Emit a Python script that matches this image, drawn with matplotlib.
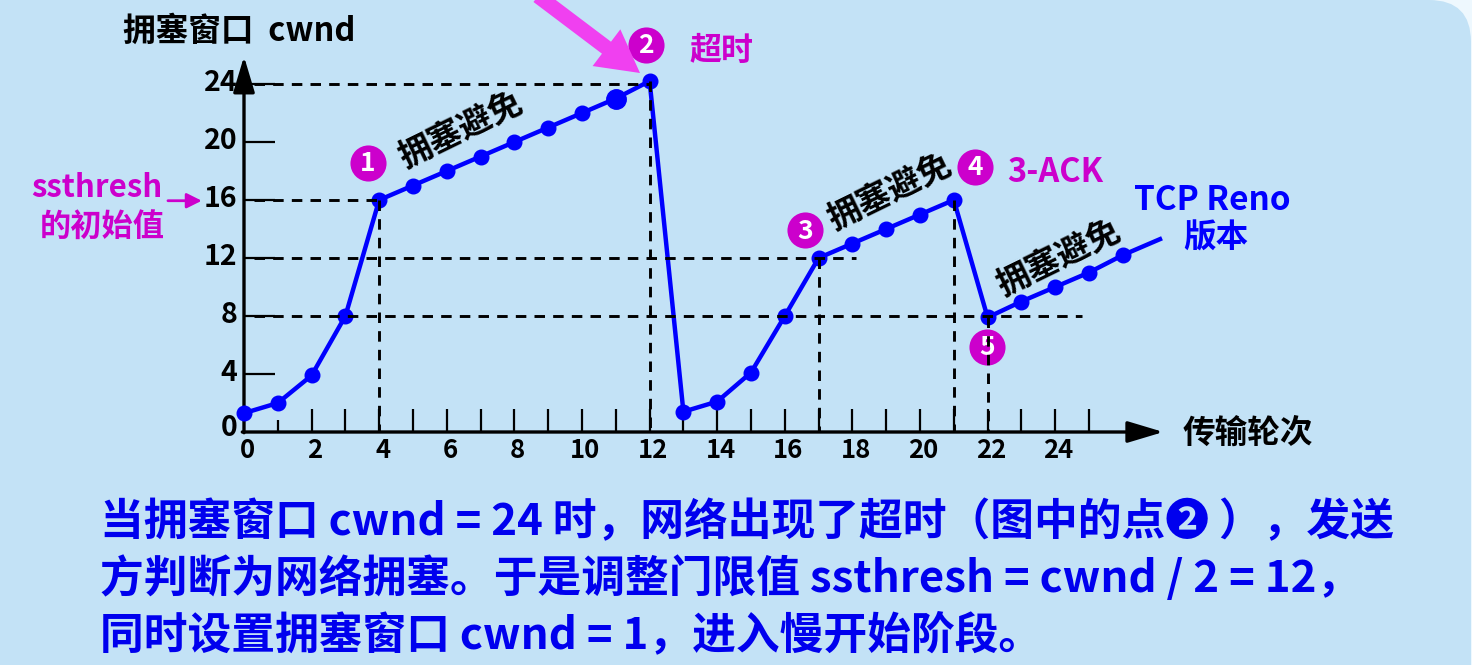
import matplotlib.pyplot as plt
import matplotlib.transforms as mtransforms
from matplotlib.patches import FancyArrow, FancyBboxPatch

plt.rcParams["font.family"] = ["Noto Sans CJK SC", "DejaVu Sans"]
plt.rcParams["font.weight"] = "bold"

# --- data -------------------------------------------------------------
ROUNDS = list(range(27))
CWND = [1.3, 2, 3.9, 8, 16, 17, 18, 19, 20, 21, 22, 23, 24.2,
        1.4, 2.1, 4.1, 8, 12, 13, 14, 15, 16, 7.9, 9, 10, 11, 12.2]
TAIL_ROUND, TAIL_CWND = 27.1, 13.3
BIG_MARKER_ROUND = 11

X_TICKS = [0, 2, 4, 6, 8, 10, 12, 14, 16, 18, 20, 22, 24]
Y_TICKS = [0, 4, 8, 12, 16, 20, 24]

# horizontal guides: (cwnd level, end round); vertical guides: rounds
H_GUIDES = [(24, 12), (16, 4), (12, 18.1), (8, 24.8)]
V_GUIDES = [4, 12, 17, 21, 22]

# circled step markers: (label, round, cwnd)
STEPS = [("1", 3.67, 18.55), ("2", 11.9, 26.7), ("3", 16.6, 13.9),
         ("4", 21.63, 18.3), ("5", 21.98, 5.86)]
AVOID_LABELS = [(6.4, 20.8), (19.1, 16.5), (24.1, 12.0)]

BOTTOM_LINES = [
    "当拥塞窗口 cwnd = 24 时，网络出现了超时（图中的点❷ ），发送",
    "方判断为网络拥塞。于是调整门限值 ssthresh = cwnd / 2 = 12，",
    "同时设置拥塞窗口 cwnd = 1，进入慢开始阶段。",
]

# --- colours ----------------------------------------------------------
BG = "#c3e2f6"
BLUE = "#0000ff"
MAGENTA = "#cc00cc"
PINK = "#f040f0"

# pixel geometry of the reference (origin of the chart and scale)
W, H = 1472, 665
X0_PX, Y0_PX = 244, 432
PX_X, PX_Y = 33.8, 14.5

fig = plt.figure(figsize=(W / 100, H / 100), dpi=100)
fig.patch.set_facecolor("#eef8fe")
ident = mtransforms.IdentityTransform()
fig.add_artist(FancyBboxPatch((-80, -80), W + 79, H + 80,
                              boxstyle="round,pad=0,rounding_size=42",
                              fc=BG, ec="none", transform=ident, zorder=-10))

ax = fig.add_axes([0, 0, 1, 1])
ax.set_xlim(-X0_PX / PX_X, (W - X0_PX) / PX_X)
ax.set_ylim((Y0_PX - H) / PX_Y, Y0_PX / PX_Y)
ax.axis("off")

# axes with arrow heads
arrow_kw = dict(arrowstyle="-|>,head_length=1.0,head_width=0.3",
                color="black", lw=2.4, shrinkA=0, shrinkB=0, mutation_scale=22)
ax.annotate("", xy=(27.2, 0), xytext=(-0.05, 0), arrowprops=arrow_kw)
ax.annotate("", xy=(0, 25.9), xytext=(0, -0.05), arrowprops=arrow_kw)

for x in range(1, 26):
    h = 0.83 if x == 1 else 1.6
    ax.plot([x, x], [0, h], color="black", lw=1.6, solid_capstyle="butt")
for y in Y_TICKS[1:]:
    ax.plot([0, 0.92], [y, y], color="black", lw=1.6, solid_capstyle="butt")

for x in X_TICKS:
    ax.text(x + 0.1, -1.3, str(x), fontsize=18.5, ha="center", va="center")
for y in Y_TICKS:
    ax.text(-0.2, y + (0.3 if y == 0 else 0.05), str(y), fontsize=20.5,
            ha="right", va="center")

# dashed guides
dash = dict(color="black", lw=2.1, ls=(0, (3.6, 2.8)), zorder=4)
for level, end in H_GUIDES:
    ax.plot([0.3, end], [level, level], **dash)
for r in V_GUIDES:
    ax.plot([r, r], [CWND[r], 0], **dash)

# cwnd curve
ax.plot(ROUNDS + [TAIL_ROUND], CWND + [TAIL_CWND], color=BLUE, lw=3.2,
        marker="o", ms=10.5, markevery=list(range(len(ROUNDS))), zorder=3)
ax.plot(BIG_MARKER_ROUND, CWND[BIG_MARKER_ROUND], "o", color=BLUE, ms=14,
        zorder=3)

# circled step numbers
for label, x, y in STEPS:
    ax.plot(x, y, "o", color=MAGENTA, ms=26, mec="none", zorder=3)
    ax.text(x, y - 0.05, label, color="white", fontsize=19, ha="center",
            va="center", zorder=3)

for x, y in AVOID_LABELS:
    ax.text(x, y, "拥塞避免", fontsize=24, rotation=26, ha="center",
            va="center", rotation_mode="anchor")

# axis titles
ax.text(-3.58, 27.6, "拥塞窗口  cwnd", fontsize=23.5, ha="left", va="center")
ax.text(27.78, -0.1, "传输轮次", fontsize=23.5, ha="left", va="center")

# magenta annotations
ax.text(-4.35, 16.85, "ssthresh", color=MAGENTA, fontsize=22.5, ha="center",
        va="center")
ax.text(-4.2, 14.1, "的初始值", color=MAGENTA, fontsize=22.5, ha="center",
        va="center")
ax.annotate("", xy=(-1.25, 15.95), xytext=(-2.25, 15.95),
            arrowprops=dict(arrowstyle="-|>,head_length=0.6,head_width=0.3",
                            color=MAGENTA, lw=2, shrinkA=0, shrinkB=0,
                            mutation_scale=15))
ax.text(13.17, 26.25, "超时", color=MAGENTA, fontsize=23, ha="left",
        va="center")
ax.text(22.57, 17.93, "3-ACK", color=MAGENTA, fontsize=23.5, ha="left",
        va="center")

fig.add_artist(FancyArrow(538, H + 4, 102, -77, width=15, head_width=46,
                          head_length=42, length_includes_head=True,
                          fc=PINK, ec="none", transform=ident, zorder=5))

ax.text(28.64, 16.0, "TCP Reno", color=BLUE, fontsize=24, ha="center",
        va="center")
ax.text(28.76, 13.4, "版本", color=BLUE, fontsize=23.5, ha="center",
        va="center")

for i, line in enumerate(BOTTOM_LINES):
    ax.text(-4.26, -6.2 - i * 3.9, line, color="#0000ee", fontsize=31.5,
            ha="left", va="center")

fig.savefig("out.png", dpi=100, facecolor=fig.get_facecolor())
